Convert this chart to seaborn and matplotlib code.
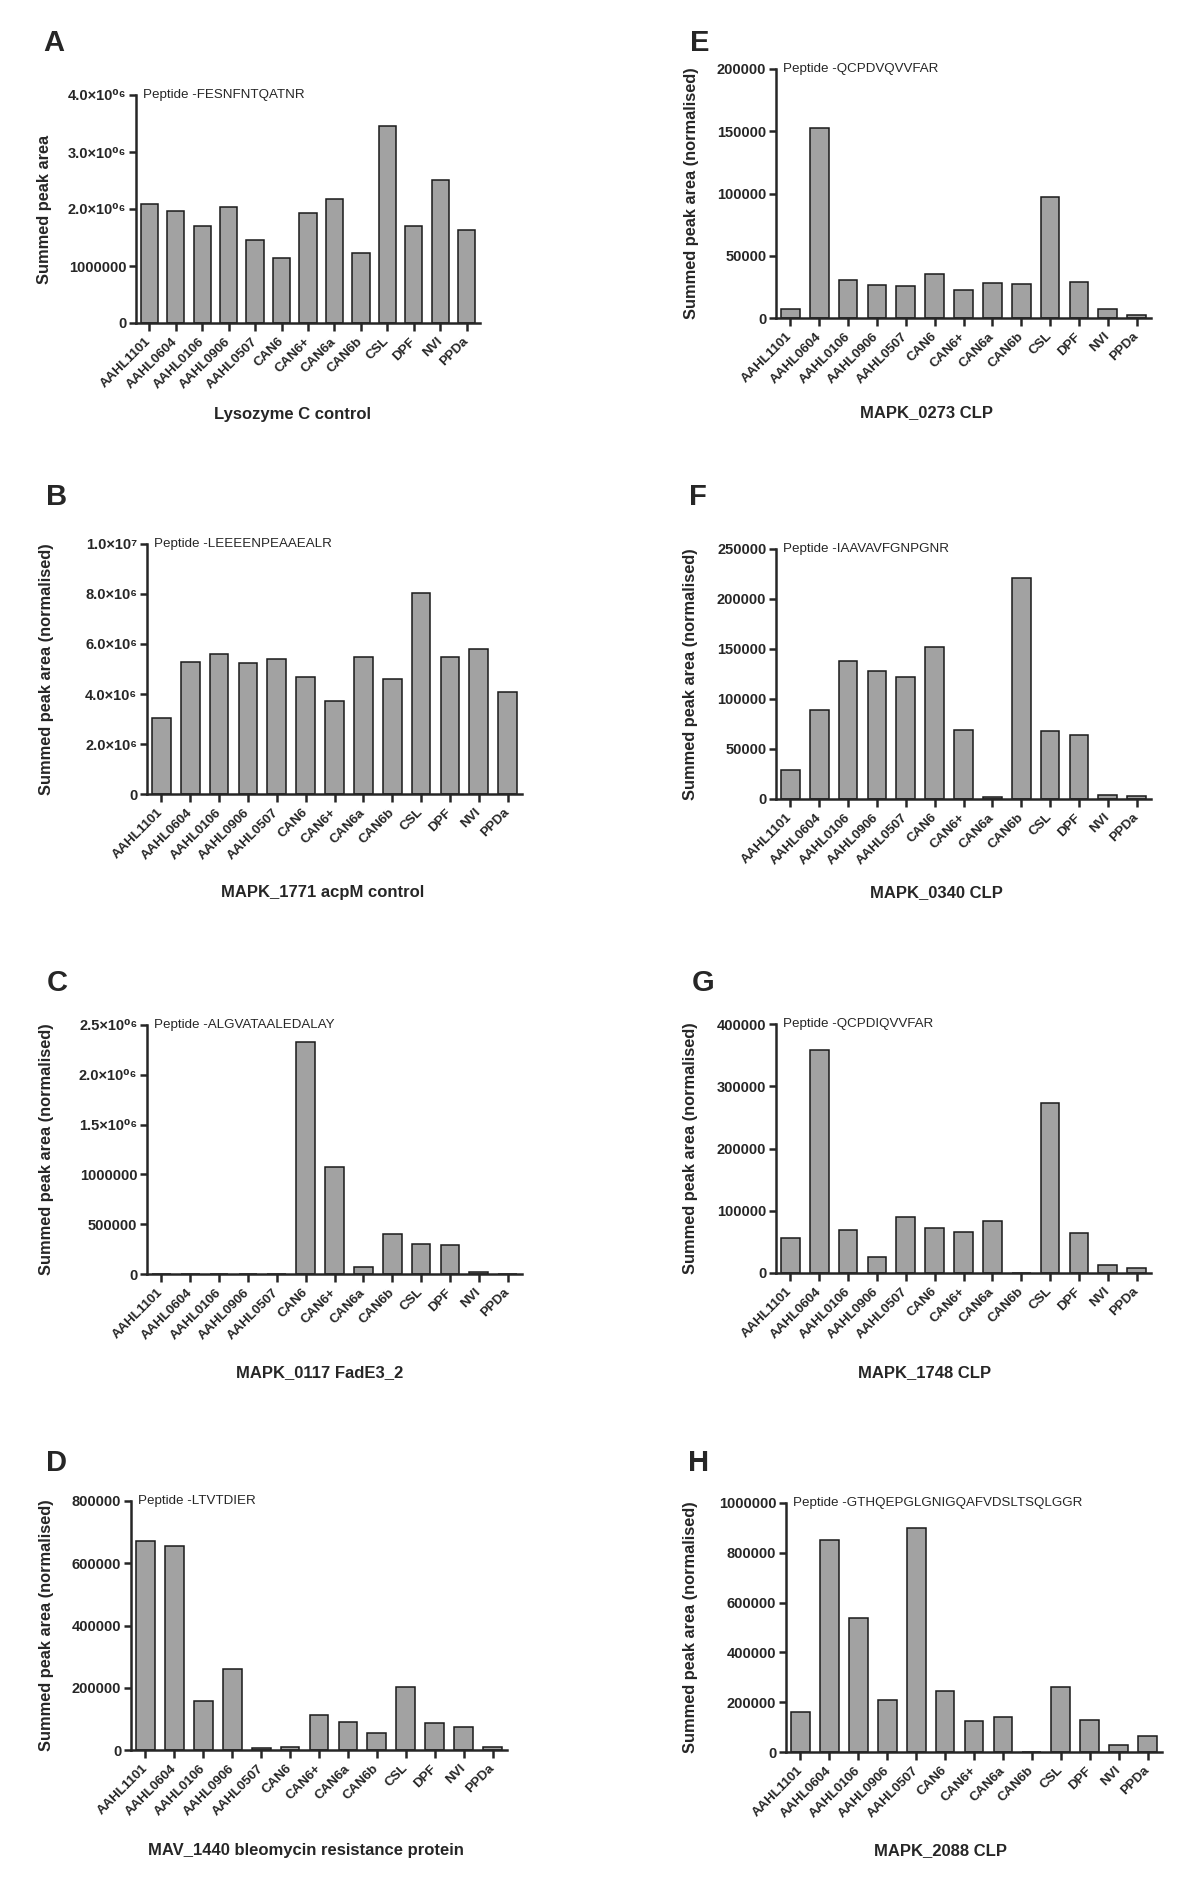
import matplotlib
matplotlib.use("Agg")
import matplotlib.pyplot as plt
import seaborn as sns
import pandas as pd

# ---------------- data ----------------
strains = ["AAHL1101", "AAHL0604", "AAHL0106", "AAHL0906", "AAHL0507", "CAN6",
           "CAN6+", "CAN6a", "CAN6b", "CSL", "DPF", "NVI", "PPDa"]

vals_A = [2.09e6, 1.96e6, 1.71e6, 2.03e6, 1.45e6, 1.14e6, 1.93e6, 2.17e6, 1.23e6, 3.45e6, 1.71e6, 2.51e6, 1.64e6]
vals_B = [3.03e6, 5.26e6, 5.59e6, 5.22e6, 5.39e6, 4.66e6, 3.71e6, 5.47e6, 4.59e6, 8.04e6, 5.47e6, 5.81e6, 4.06e6]
vals_C = [0, 0, 0, 0, 0, 2.33e6, 1.076e6, 7.4e4, 3.98e5, 3.0e5, 2.9e5, 2.0e4, 0]
vals_D = [6.73e5, 6.55e5, 1.56e5, 2.60e5, 6.4e3, 8.5e3, 1.14e5, 9.1e4, 5.6e4, 2.04e5, 8.7e4, 7.5e4, 8.5e3]
vals_E = [7.5e3, 1.527e5, 3.05e4, 2.62e4, 2.54e4, 3.56e4, 2.27e4, 2.83e4, 2.73e4, 9.7e4, 2.89e4, 7.0e3, 2.4e3]
vals_F = [2.9e4, 8.88e4, 1.375e5, 1.278e5, 1.218e5, 1.515e5, 6.9e4, 2.3e3, 2.206e5, 6.84e4, 6.4e4, 4.0e3, 3.0e3]
vals_G = [5.57e4, 3.577e5, 6.96e4, 2.57e4, 9.05e4, 7.18e4, 6.59e4, 8.3e4, 0, 2.726e5, 6.48e4, 1.23e4, 8.0e3]
vals_H = [1.60e5, 8.50e5, 5.37e5, 2.08e5, 9.01e5, 2.46e5, 1.24e5, 1.39e5, 0, 2.60e5, 1.28e5, 2.7e4, 6.3e4]

ticks_A = [0, 1e6, 2e6, 3e6, 4e6]
tlab_A = ["0", "1000000", "2.0×10⁰⁶", "3.0×10⁰⁶", "4.0×10⁰⁶"]
ticks_B = [0, 2e6, 4e6, 6e6, 8e6, 1e7]
tlab_B = ["0", "2.0×10⁶", "4.0×10⁶", "6.0×10⁶", "8.0×10⁶", "1.0×10⁷"]
ticks_C = [0, 5e5, 1e6, 1.5e6, 2e6, 2.5e6]
tlab_C = ["0", "500000", "1000000", "1.5×10⁰⁶", "2.0×10⁰⁶", "2.5×10⁰⁶"]
ticks_D = [0, 2e5, 4e5, 6e5, 8e5]
tlab_D = ["0", "200000", "400000", "600000", "800000"]
ticks_E = [0, 5e4, 1e5, 1.5e5, 2e5]
tlab_E = ["0", "50000", "100000", "150000", "200000"]
ticks_F = [0, 5e4, 1e5, 1.5e5, 2e5, 2.5e5]
tlab_F = ["0", "50000", "100000", "150000", "200000", "250000"]
ticks_G = [0, 1e5, 2e5, 3e5, 4e5]
tlab_G = ["0", "100000", "200000", "300000", "400000"]
ticks_H = [0, 2e5, 4e5, 6e5, 8e5, 1e6]
tlab_H = ["0", "200000", "400000", "600000", "800000", "1000000"]

peptides = ["FESNFNTQATNR", "LEEEENPEAAEALR", "ALGVATAALEDALAY", "LTVTDIER",
            "QCPDVQVVFAR", "IAAVAVFGNPGNR", "QCPDIQVVFAR", "GTHQEPGLGNIGQAFVDSLTSQLGGR"]
titles = ["Lysozyme C control", "MAPK_1771 acpM control", "MAPK_0117 FadE3_2",
          "MAV_1440 bleomycin resistance protein", "MAPK_0273 CLP", "MAPK_0340 CLP",
          "MAPK_1748 CLP", "MAPK_2088 CLP"]
letters = ["A", "B", "C", "D", "E", "F", "G", "H"]
ylabels = ["Summed peak area"] + ["Summed peak area (normalised)"] * 7

# ---------------- style ----------------
sns.set_theme(style="ticks")
plt.rcParams["font.family"] = ["Liberation Sans", "DejaVu Sans"]
plt.rcParams["axes.linewidth"] = 1.8

W, H = 1200, 1903
fig = plt.figure(figsize=(W / 100, H / 100), dpi=100)

# panel geometry in pixels: left, right, top, bottom, ylabel x, title x, title y, letter x, letter y
geom = [
    (136, 480, 95, 323, 52, 293, 415, 54, 43),
    (147, 522, 544, 794, 54, 323, 893, 57, 497),
    (147, 522, 1025, 1274, 54, 320, 1373, 57, 983),
    (131, 507, 1501, 1750, 54, 306, 1850, 57, 1463),
    (776, 1151, 69, 318, 699, 927, 413, 700, 43),
    (776, 1151, 549, 799, 698, 936, 893, 698, 497),
    (776, 1151, 1024, 1273, 698, 925, 1373, 703, 983),
    (786, 1162, 1503, 1752, 698, 941, 1851, 699, 1463),
]

all_vals = [vals_A, vals_B, vals_C, vals_D, vals_E, vals_F, vals_G, vals_H]
all_ticks = [ticks_A, ticks_B, ticks_C, ticks_D, ticks_E, ticks_F, ticks_G, ticks_H]
all_tlabs = [tlab_A, tlab_B, tlab_C, tlab_D, tlab_E, tlab_F, tlab_G, tlab_H]

for i in range(8):
    l, r, t, b, ylx, tx, ty, lx, ly = geom[i]
    ax = fig.add_axes([l / W, 1 - b / H, (r - l) / W, (b - t) / H])
    df = pd.DataFrame({"strain": strains, "value": all_vals[i]})
    sns.barplot(data=df, x="strain", y="value", ax=ax, color="#a2a2a2",
                saturation=1, edgecolor="#1a1a1a", linewidth=1.1, width=0.65)
    ax.set_xlim(-0.5, 12.5)
    ax.set_ylim(0, all_ticks[i][-1])
    ax.set_yticks(all_ticks[i])
    ax.set_yticklabels(all_tlabs[i], fontsize=10.5, fontweight="bold")
    ax.set_xticks(range(len(strains)))
    ax.set_xticklabels(strains, fontsize=9.5, fontweight="bold", rotation=45,
                       ha="right", va="center", rotation_mode="anchor")
    ax.tick_params(axis="x", length=6, width=1.8, pad=6, direction="out")
    ax.tick_params(axis="y", length=5, width=1.8, pad=2, direction="out")
    for s in ["top", "right"]:
        ax.spines[s].set_visible(False)
    ax.set_xlabel("")
    ax.set_ylabel(ylabels[i], fontsize=11.8, fontweight="bold")
    ax.yaxis.set_label_coords(-(l - ylx) / (r - l), 0.5)
    ax.text(7 / (r - l), 1.0, "Peptide -" + peptides[i], transform=ax.transAxes,
            fontsize=9.6, ha="left", va="center")
    fig.text(tx / W, 1 - ty / H, titles[i], fontsize=12,
             fontweight="bold", ha="center", va="center")
    fig.text(lx / W, 1 - ly / H, letters[i], fontsize=21, fontweight="bold",
             ha="center", va="center")

fig.savefig("out.png", dpi=100, facecolor="white")
